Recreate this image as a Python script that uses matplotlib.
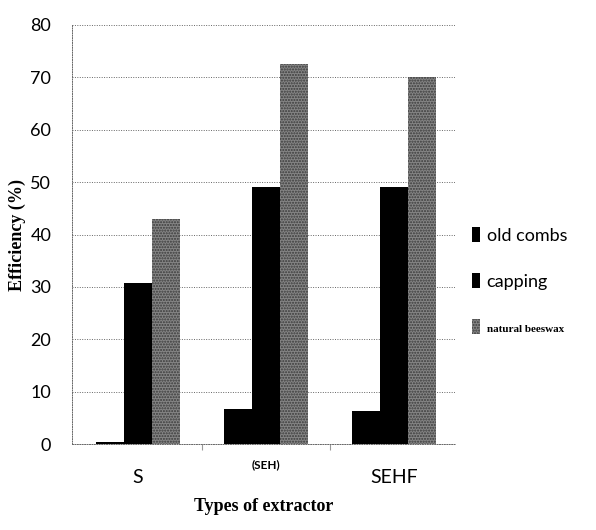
import matplotlib.pyplot as plt
import numpy as np
from matplotlib import transforms

extractors = ["S", "(SEH)", "SEHF"]
old_combs = [0.5, 6.7, 6.3]
capping = [30.7, 49.0, 49.0]
natural_beeswax = [43.0, 72.5, 70.0]

sans = ["Lato", "DejaVu Sans"]
serif = ["Liberation Serif", "DejaVu Serif"]

fig = plt.figure(figsize=(5.96, 5.30), dpi=100)
ax = fig.add_axes([0.121, 0.162, 0.642, 0.791])

x = np.arange(len(extractors))
w = 0.219

ax.bar(x - w, old_combs, w, color="black", label="old combs", zorder=3)
ax.bar(x, capping, w, color="black", label="capping", zorder=3)
ax.bar(x + w, natural_beeswax, w, color="#858585", edgecolor="#3a3a3a",
       hatch="......", linewidth=0, label="natural beeswax", zorder=3)

ax.set_ylim(0, 80)
ax.set_xlim(-0.516, 2.476)
ax.set_yticks(np.arange(0, 81, 10))
ax.tick_params(axis="y", length=0, pad=15, labelsize=13)
for lab in ax.get_yticklabels():
    lab.set_family(sans)

ax.grid(axis="y", linestyle=(0, (1, 1.5)), color="#666666", linewidth=0.7, zorder=0)
for side in ["top", "right"]:
    ax.spines[side].set_visible(False)
for side in ["left", "bottom"]:
    ax.spines[side].set_linestyle((0, (1, 1.5)))
    ax.spines[side].set_color("#666666")
    ax.spines[side].set_linewidth(0.7)

# category labels, the middle one raised and smaller
ax.set_xticks([0.5, 1.5], ["", ""])
ax.tick_params(axis="x", length=4, color="#999999")
trans = transforms.blended_transform_factory(ax.transData, ax.transAxes)
ax.text(x[0], -0.08, extractors[0], transform=trans, ha="center", va="center",
        fontsize=14, family=sans)
ax.text(x[1], -0.05, extractors[1], transform=trans, ha="center", va="center",
        fontsize=8.5, family=sans, fontweight="bold")
ax.text(x[2], -0.08, extractors[2], transform=trans, ha="center", va="center",
        fontsize=14, family=sans)

ax.set_xlabel("Types of extractor", fontsize=13, fontweight="bold",
              family=serif, labelpad=31)
ax.set_ylabel("Efficiency (%)", fontsize=13, fontweight="bold",
              family=serif, labelpad=3)

leg = fig.legend(loc="center left", bbox_to_anchor=(0.765, 0.47), frameon=False,
                 handlelength=0.45, handleheight=0.9, handletextpad=0.35,
                 labelspacing=1.6, prop={"family": sans, "size": 13})
texts = leg.get_texts()
texts[2].set_fontsize(8)
texts[2].set_family(serif)
texts[2].set_fontweight("bold")

fig.savefig("out.png", dpi=100, facecolor="white")
